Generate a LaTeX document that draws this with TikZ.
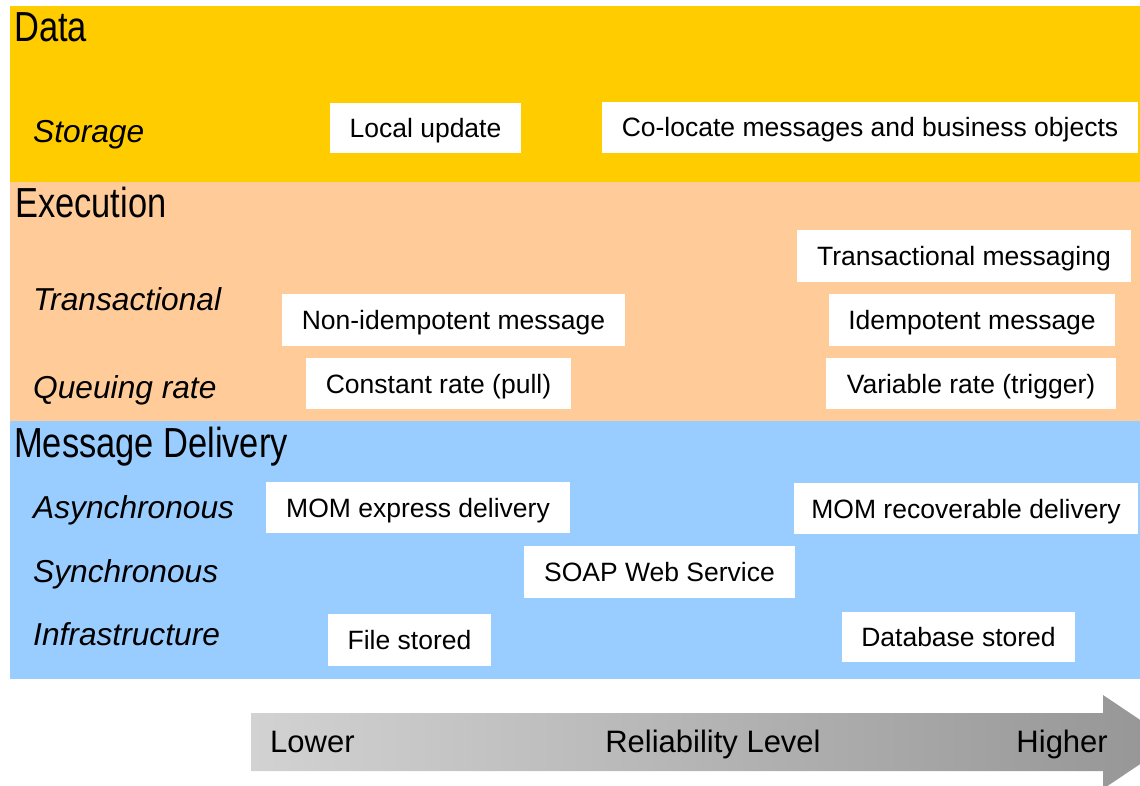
\documentclass[tikz,border=0pt]{standalone}
\usepackage{fontspec}
\setmainfont{Liberation Sans}
\newfontfamily\narrowfont{Liberation Sans}[FakeStretch=0.82]
\definecolor{datafill}{HTML}{FFCC00}
\definecolor{execfill}{HTML}{FFCC99}
\definecolor{msgfill}{HTML}{99CCFF}
\definecolor{arrowlight}{HTML}{D2D2D2}
\definecolor{arrowdark}{HTML}{959595}
\begin{document}
\begin{tikzpicture}[x=1pt,y=-1pt,
  bandtitle/.style={anchor=base west,inner sep=0pt,font=\narrowfont\fontsize{42}{46}\selectfont},
  rowlabel/.style={anchor=base west,inner sep=0pt,font=\itshape\fontsize{31.7}{34}\selectfont},
  optbox/.style={fill=white,draw=none,inner sep=0pt,text height=19pt,text depth=0pt,
    font=\fontsize{26.5}{30}\selectfont},
  scalelabel/.style={inner sep=0pt,font=\fontsize{31}{34}\selectfont}]
\useasboundingbox (0,0) rectangle (1140,786);
\clip (0,0) rectangle (1140,786);

% layer bands
\fill[datafill] (10,6) rectangle (1145,182);
\fill[execfill] (10,182) rectangle (1145,421);
\fill[msgfill] (10,421) rectangle (1145,679);

% band titles
\node[bandtitle] (tdata) at (14,42) {Data};
\node[bandtitle] (texec) at (15,218) {Execution};
\node[bandtitle] (tmsg) at (14,457) {Message Delivery};

% row labels
\node[rowlabel] (lstorage) at (33,143) {Storage};
\node[rowlabel] (ltrans) at (33,310) {Transactional};
\node[rowlabel] (lqueue) at (33,398) {Queuing rate};
\node[rowlabel] (lasync) at (33,518) {Asynchronous};
\node[rowlabel] (lsync) at (33,582) {Synchronous};
\node[rowlabel] (linfra) at (33,645) {Infrastructure};

% options
\node[optbox,minimum width=191pt,minimum height=50pt] (local) at (425.5,128) {Local update};
\node[optbox,minimum width=536pt,minimum height=51pt] (coloc) at (870,127.5) {Co-locate messages and business objects};
\node[optbox,minimum width=334pt,minimum height=52pt] (txmsg) at (964,256) {Transactional messaging};
\node[optbox,minimum width=343pt,minimum height=52pt] (nonidem) at (453.5,320) {Non-idempotent message};
\node[optbox,minimum width=286pt,minimum height=52pt] (idem) at (972,320) {Idempotent message};
\node[optbox,minimum width=265pt,minimum height=51pt] (const) at (438.5,383.5) {Constant rate (pull)};
\node[optbox,minimum width=290pt,minimum height=51pt] (var) at (971,383.5) {Variable rate (trigger)};
\node[optbox,minimum width=304pt,minimum height=51pt] (momexp) at (418,507.5) {MOM express delivery};
\node[optbox,minimum width=344pt,minimum height=51pt] (momrec) at (966,508.5) {MOM recoverable delivery};
\node[optbox,minimum width=271pt,minimum height=52pt] (soap) at (659.5,572) {SOAP Web Service};
\node[optbox,minimum width=163pt,minimum height=52pt] (file) at (409.5,640) {File stored};
\node[optbox,minimum width=233pt,minimum height=50pt] (db) at (958.5,637) {Database stored};

% reliability scale arrow
\shade[left color=arrowlight,right color=arrowdark]
  (251,713) -- (1103,713) -- (1103,695) -- (1173,742) -- (1103,789)
  -- (1103,771) -- (251,771) -- cycle;
\node[scalelabel,anchor=base west] (lower) at (270,752) {Lower};
\node[scalelabel,anchor=base] (rel) at (713,752) {Reliability Level};
\node[scalelabel,anchor=base east] (higher) at (1108,752) {Higher};
\end{tikzpicture}
\end{document}
